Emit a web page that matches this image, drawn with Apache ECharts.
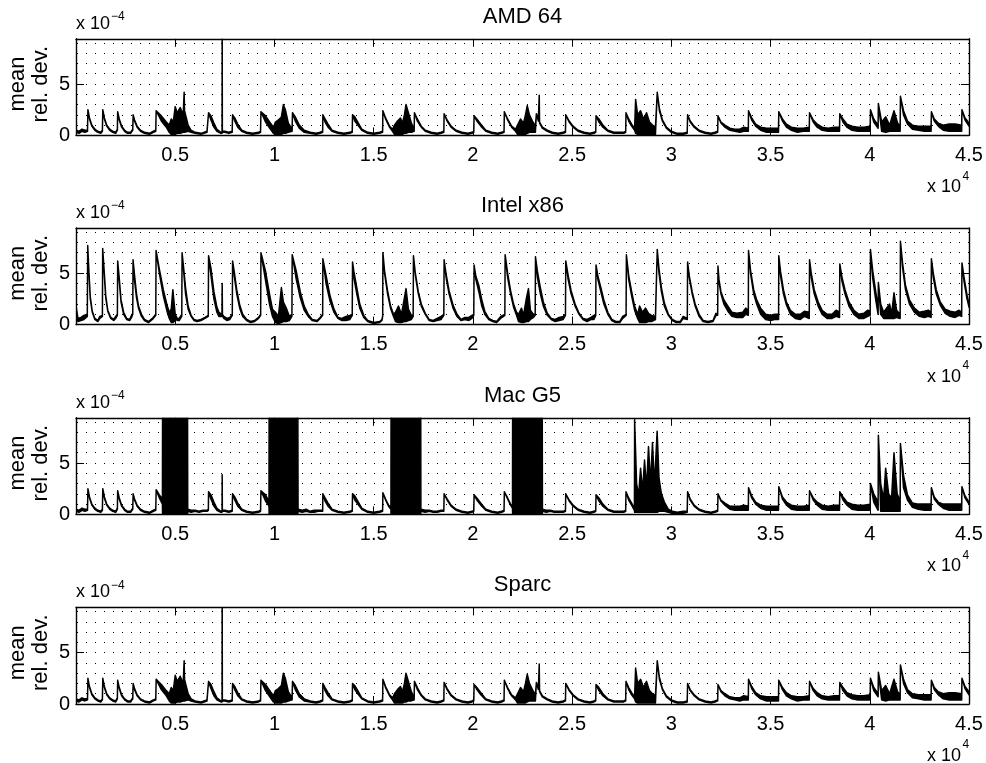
<!DOCTYPE html>
<html>
<head>
<meta charset="utf-8">
<script src="https://cdn.jsdelivr.net/npm/echarts@6/dist/echarts.min.js"></script>
<style>
    html, body { margin: 0; padding: 0; background: #fff; }
    #main { width: 986px; height: 763px; }
</style>
</head>
<body>
<div id="main"></div>
<script>
    var titles = ['AMD 64', 'Intel x86', 'Mac G5', 'Sparc'];
    var yTickValues = [0, 5];

    // trace: [x, lower edge, upper edge], y in units of 1e-4
    var amd64 = [
        [0,0.3,0.5],[150,0.2,0.4],[300,0.4,0.6],[450,0.3,0.5],[580,0.4,0.5],
        [600,2.5,2.5],[680,1.6,1.7],[800,0.9,1.0],[950,0.5,0.6],[1100,0.3,0.4],[1250,0.2,0.3],[1330,0.4,0.5],
        [1350,2.5,2.5],[1430,1.6,1.7],[1550,0.9,1.0],[1700,0.5,0.6],[1850,0.3,0.4],[2000,0.2,0.3],[2085,0.5,0.6],
        [2100,2.3,2.3],[2180,1.5,1.6],[2300,0.8,0.9],[2450,0.4,0.5],[2600,0.2,0.3],[2750,0.2,0.3],[2860,0.5,0.6],
        [2880,2.0,2.0],[2950,1.4,1.5],[3080,0.8,0.9],[3250,0.4,0.5],[3450,0.2,0.3],[3700,0.1,0.2],[3900,0.3,0.4],[4020,0.4,0.5],
        [4040,2.4,2.4],[4300,1.4,1.9],[4550,0.8,1.3],[4700,0.3,1.0],
        [4800,0.1,1.6],[4900,0.1,1.3],[5000,0.1,2.8],[5100,0.2,2.2],[5250,0.2,2.7],[5400,0.3,2.0],[5450,0.3,4.2],[5470,0.3,2.4],
        [5650,0.4,1.0],[5800,0.3,0.5],[6000,0.2,0.3],[6300,0.1,0.2],[6600,0.3,0.4],
        [6680,2.2,2.2],[6800,1.5,1.9],[6950,0.8,1.2],[7100,0.4,0.6],[7300,0.2,0.3],
        [7360,0.2,0.3],[7367,12,12],[7375,0.3,0.4],[7500,0.3,0.4],[7700,0.2,0.3],[7870,0.3,0.4],
        [7890,2.0,2.0],[8000,1.4,1.7],[8150,0.8,1.1],[8350,0.4,0.5],[8600,0.2,0.3],[8900,0.1,0.2],[9200,0.2,0.3],[9300,0.3,0.4],
        [9320,2.3,2.3],[9550,1.3,1.9],[9800,0.6,1.2],[9950,0.2,0.8],
        [10050,0.1,1.3],[10200,0.1,1.5],[10350,0.1,1.8],[10450,0.2,3.0],[10550,0.2,2.5],[10700,0.3,1.2],[10890,0.4,0.6],
        [10910,2.2,2.2],[11050,1.4,1.8],[11250,0.7,1.0],[11500,0.3,0.5],[11800,0.2,0.3],[12100,0.1,0.2],[12300,0.2,0.3],[12430,0.3,0.4],
        [12440,2.0,2.0],[12550,1.3,1.6],[12700,0.8,1.1],[12900,0.4,0.5],[13200,0.2,0.3],[13500,0.1,0.2],[13800,0.2,0.3],[13920,0.3,0.4],
        [13935,2.0,2.0],[14050,1.4,1.8],[14200,1.0,1.3],[14400,0.5,0.6],[14700,0.2,0.3],[15000,0.1,0.2],[15300,0.2,0.3],[15450,0.3,0.4],
        [15465,2.4,2.4],[15600,1.6,1.7],[15800,0.8,0.9],[15950,0.4,0.6],
        [16050,0.1,1.0],[16200,0.1,1.4],[16350,0.1,1.7],[16450,0.1,1.2],[16550,0.2,2.0],[16630,0.2,3.0],[16750,0.3,2.2],[16900,0.3,1.2],[17040,0.4,0.6],
        [17055,2.2,2.2],[17200,1.4,1.6],[17400,0.8,0.9],[17600,0.4,0.5],[17900,0.2,0.3],[18200,0.1,0.2],[18400,0.2,0.3],[18535,0.3,0.4],
        [18550,2.1,2.1],[18700,1.4,1.5],[18900,0.8,0.9],[19150,0.4,0.5],[19450,0.2,0.3],[19750,0.1,0.2],[19950,0.2,0.3],[20045,0.3,0.4],
        [20060,1.9,1.9],[20200,1.4,1.6],[20400,0.9,1.1],[20650,0.4,0.5],[20950,0.2,0.3],[21250,0.1,0.2],[21450,0.2,0.3],[21570,0.3,0.4],
        [21585,2.3,2.3],[21750,1.5,1.6],[21950,0.8,0.9],[22150,0.4,0.6],
        [22250,0.1,1.0],[22400,0.1,1.6],[22550,0.1,1.2],[22650,0.1,2.0],[22740,0.2,2.9],[22850,0.3,2.0],[23000,0.3,1.4],[23150,0.3,0.9],
        [23200,2.1,2.1],[23300,1.4,1.6],[23344,3.9,3.9],[23360,1.2,1.3],[23500,0.7,0.8],[23750,0.4,0.5],[24000,0.2,0.3],[24300,0.1,0.2],[24550,0.2,0.3],[24665,0.3,0.4],
        [24680,2.0,2.0],[24850,1.3,1.4],[25050,0.8,0.9],[25300,0.4,0.5],[25600,0.2,0.3],[25900,0.1,0.2],[26100,0.2,0.3],[26190,0.3,0.4],
        [26205,1.9,1.9],[26350,1.3,1.6],[26550,0.8,1.0],[26800,0.4,0.5],[27100,0.2,0.3],[27400,0.2,0.3],[27600,0.2,0.3],[27700,0.3,0.4],
        [27715,2.2,2.2],[27850,1.4,1.6],[28000,0.9,1.1],[28150,0.5,0.7],
        [28200,0.2,3.5],[28300,0.1,2.0],[28450,0.1,2.4],[28600,0.1,1.6],[28750,0.1,2.2],[28900,0.1,1.3],[29050,0.1,1.0],[29200,0.1,0.8],
        [29290,4.2,4.2],[29400,2.4,2.6],[29550,1.4,1.5],[29750,0.7,0.8],[30000,0.3,0.4],[30300,0.1,0.2],[30600,0.1,0.2],[30800,0.2,0.3],
        [30820,2.0,2.0],[30950,1.3,1.4],[31150,0.8,0.9],[31400,0.4,0.5],[31700,0.2,0.3],[32000,0.1,0.2],[32200,0.2,0.3],[32335,0.3,0.4],
        [32350,1.9,1.9],[32500,1.2,1.3],[32700,0.8,1.0],[32950,0.5,0.7],[33200,0.4,0.6],[33450,0.3,0.6],[33650,0.4,0.8],[33880,0.4,0.7],
        [33890,2.4,2.4],[34050,1.5,1.7],[34250,0.9,1.1],[34500,0.5,0.8],[34800,0.3,0.7],[35100,0.3,0.7],[35400,0.3,0.7],
        [35415,2.3,2.3],[35600,1.4,1.6],[35800,0.8,1.1],[36050,0.5,0.8],[36350,0.3,0.7],[36650,0.4,0.7],[36950,0.4,0.8],
        [36965,2.2,2.2],[37150,1.3,1.5],[37350,0.8,1.1],[37600,0.5,0.8],[37900,0.4,0.7],[38200,0.4,0.8],[38475,0.4,0.8],
        [38490,2.1,2.1],[38650,1.3,1.6],[38850,0.8,1.1],[39100,0.5,0.9],[39400,0.4,0.8],[39700,0.4,0.8],[40020,0.4,0.9],
        [40035,2.5,2.5],[40200,1.3,1.6],[40420,0.7,1.0],[40433,3.1,3.1],[40600,0.4,1.3],[40800,0.3,1.8],[41000,0.4,1.0],[41220,0.4,2.4],[41400,0.4,1.2],[41530,0.4,0.9],
        [41545,3.8,3.8],[41700,2.0,2.4],[41900,1.1,1.4],[42150,0.6,1.0],[42450,0.5,0.9],[42750,0.4,0.9],[43090,0.4,0.9],
        [43105,2.3,2.3],[43250,1.4,1.6],[43450,0.9,1.2],[43700,0.5,1.0],[44000,0.4,1.1],[44300,0.4,1.1],[44630,0.4,1.0],
        [44645,2.5,2.5],[44800,1.5,1.7],[45000,0.9,1.2]
    ];

    var intelX86 = [
        [0,1.2,1.8],[100,0.3,0.6],[250,0.4,0.7],[400,0.5,0.9],[570,0.8,1.0],
        [590,7.7,7.7],[650,5.0,5.2],[720,2.5,2.7],[820,1.2,1.3],[950,0.5,0.6],[1100,0.3,0.4],[1200,0.6,0.8],[1330,0.8,0.9],
        [1345,7.4,7.4],[1420,5.0,5.2],[1500,2.6,2.8],[1600,1.3,1.4],[1750,0.6,0.7],[1900,0.4,0.5],[2000,0.6,0.8],[2085,0.9,1.0],
        [2100,6.2,6.2],[2180,4.2,4.5],[2270,2.2,2.4],[2400,1.0,1.2],[2550,0.5,0.6],[2700,0.4,0.5],[2800,0.7,0.9],[2860,1.0,1.1],
        [2875,6.3,6.3],[2950,4.3,4.8],[3050,2.6,3.0],[3150,1.6,1.8],[3300,0.8,1.0],[3450,0.4,0.5],[3650,0.2,0.3],[3850,0.5,0.6],[4020,0.9,1.0],
        [4035,7.2,7.2],[4200,5.0,5.4],[4400,2.8,3.4],[4600,1.2,1.8],[4700,0.6,1.2],
        [4800,0.2,1.5],[4880,0.2,3.4],[4950,0.3,2.0],[5000,0.6,1.0],[5100,0.4,0.6],[5200,0.4,0.6],[5330,0.8,1.0],
        [5345,7.0,7.0],[5420,5.3,5.6],[5520,3.0,3.6],[5650,1.5,1.8],[5800,0.8,0.9],[5950,0.4,0.5],[6100,0.3,0.4],[6300,0.4,0.5],[6500,0.6,0.7],[6665,0.8,0.9],
        [6680,6.7,6.7],[6800,4.8,5.5],[6950,2.5,3.2],[7100,1.2,1.7],[7200,0.8,1.2],[7355,0.8,1.0],[7367,4.0,4.0],[7380,0.9,1.0],[7450,0.6,0.8],[7600,0.4,0.6],[7750,0.5,0.7],[7875,0.9,1.0],
        [7890,6.2,6.2],[7970,4.8,5.2],[8100,3.0,3.4],[8250,1.6,1.9],[8400,0.8,1.0],[8600,0.4,0.5],[8800,0.2,0.3],[9000,0.3,0.4],[9200,0.6,0.7],[9305,0.9,1.0],
        [9320,7.0,7.0],[9550,4.3,5.2],[9750,2.0,3.0],[9900,0.8,1.5],
        [10050,0.2,1.2],[10200,0.1,0.8],[10350,0.2,3.6],[10450,0.3,2.2],[10600,0.3,1.6],[10750,0.4,0.8],[10880,0.8,1.0],
        [10895,6.8,6.8],[11100,4.4,5.2],[11300,2.6,3.2],[11500,1.4,1.8],[11700,0.8,1.0],[11900,0.4,0.5],[12150,0.3,0.4],[12300,0.6,0.7],[12430,0.9,1.0],
        [12440,6.4,6.4],[12600,4.0,4.8],[12800,2.3,2.8],[13000,1.2,1.5],[13200,0.6,0.7],[13400,0.4,0.6],[13600,0.4,0.8],[13800,0.5,0.9],[13920,0.9,1.0],
        [13935,6.1,6.1],[14000,4.6,5.2],[14150,3.0,3.6],[14300,1.6,2.0],[14500,0.7,0.9],[14700,0.3,0.4],[15000,0.1,0.2],[15300,0.2,0.3],[15420,0.4,0.5],[15455,0.8,0.9],
        [15465,7.0,7.0],[15550,5.0,5.2],[15700,3.0,3.3],[15850,1.6,1.8],[16000,0.8,1.0],
        [16100,0.3,1.2],[16250,0.2,1.8],[16400,0.2,1.0],[16550,0.3,2.6],[16630,0.3,3.5],[16750,0.4,1.5],[16900,0.5,0.9],[16990,0.8,0.9],
        [17005,6.7,6.7],[17100,4.8,5.0],[17250,3.0,3.2],[17400,1.8,2.0],[17600,1.0,1.1],[17800,0.4,0.5],[18000,0.3,0.4],[18200,0.4,0.6],[18400,0.5,0.8],[18535,0.9,1.0],
        [18550,6.3,6.3],[18650,4.6,4.9],[18800,3.0,3.3],[19000,1.6,1.9],[19200,0.8,1.0],[19400,0.4,0.5],[19600,0.5,0.7],[19800,0.4,0.7],[19950,0.6,0.9],[20045,0.9,1.0],
        [20060,5.8,5.8],[20150,4.4,4.7],[20300,3.2,3.8],[20450,1.8,2.4],[20600,1.0,1.3],[20800,0.5,0.6],[21000,0.3,0.4],[21200,0.2,0.3],[21400,0.6,0.8],[21610,0.9,1.0],
        [21625,6.8,6.8],[21750,4.6,5.0],[21900,3.0,3.3],[22050,1.7,2.0],[22200,0.9,1.2],
        [22300,0.3,1.0],[22450,0.2,1.6],[22550,0.2,0.9],[22700,0.3,2.6],[22800,0.3,3.5],[22900,0.5,1.4],[23050,0.7,1.0],[23140,0.9,1.0],
        [23155,6.6,6.6],[23250,4.6,5.2],[23400,3.0,3.6],[23550,1.8,2.2],[23750,0.9,1.1],[23950,0.5,0.6],[24150,0.3,0.5],[24350,0.4,0.7],[24550,0.5,0.8],[24665,0.9,1.0],
        [24680,6.2,6.2],[24800,4.4,4.8],[24950,3.0,3.3],[25150,1.8,2.0],[25350,1.0,1.1],[25550,0.5,0.6],[25750,0.3,0.5],[25950,0.5,0.7],[26100,0.5,0.9],[26190,0.9,1.0],
        [26205,5.8,5.8],[26300,4.4,4.7],[26450,3.2,3.6],[26600,2.0,2.4],[26800,1.0,1.2],[27000,0.4,0.5],[27200,0.2,0.3],[27400,0.2,0.3],[27550,0.6,0.8],[27720,0.9,1.0],
        [27735,6.8,6.8],[27850,4.4,4.8],[28000,2.8,3.2],[28150,1.4,1.8],[28300,0.6,1.0],
        [28400,0.2,1.8],[28550,0.2,1.2],[28700,0.2,1.6],[28850,0.3,1.1],[29000,0.3,0.9],[29200,0.5,0.8],
        [29290,7.3,7.3],[29380,5.0,5.4],[29500,3.2,3.6],[29650,1.8,2.1],[29850,0.9,1.0],[30050,0.4,0.5],[30250,0.2,0.3],[30450,0.2,0.3],[30600,0.6,0.8],[30805,0.5,0.6],
        [30820,6.1,6.1],[30900,4.6,4.8],[31050,3.0,3.2],[31200,1.8,2.0],[31400,0.8,1.0],[31600,0.3,0.4],[31850,0.2,0.3],[32100,0.3,0.4],[32250,0.9,1.1],[32335,0.9,1.0],
        [32350,5.7,5.7],[32400,4.2,4.4],[32500,3.0,3.2],[32650,2.0,2.4],[32850,1.3,1.8],[33050,0.8,1.2],[33300,0.7,1.1],[33600,0.7,1.2],[33750,1.0,1.6],[33880,0.9,1.4],
        [33890,7.2,7.2],[33990,5.0,5.3],[34150,3.0,3.4],[34300,2.0,2.4],[34500,1.0,1.6],[34750,0.5,1.0],[35000,0.4,0.9],[35200,0.5,1.0],[35405,0.5,1.0],
        [35415,6.7,6.7],[35500,4.8,5.2],[35650,3.0,3.4],[35800,1.9,2.2],[36000,1.0,1.4],[36250,0.6,1.0],[36500,0.5,1.0],[36700,0.8,1.3],[36950,0.6,1.2],
        [36965,6.3,6.3],[37050,4.6,5.0],[37200,3.0,3.4],[37400,1.8,2.2],[37600,1.0,1.4],[37850,0.6,1.0],[38100,0.6,1.0],[38300,0.8,1.4],[38475,0.7,1.2],
        [38490,5.9,5.9],[38600,4.2,4.6],[38750,3.0,3.4],[38950,1.8,2.2],[39200,1.0,1.4],[39450,0.6,1.0],[39700,0.6,1.1],[39900,0.8,1.4],[40020,0.9,1.3],
        [40035,7.3,7.3],[40150,4.5,5.2],[40300,2.4,3.2],[40420,1.0,1.6],[40433,4.1,4.1],[40550,1.0,2.0],[40700,0.6,1.2],[41000,0.6,2.0],[41100,0.6,1.0],[41220,0.6,3.1],[41350,0.7,1.4],[41530,0.6,1.0],
        [41545,8.1,8.1],[41650,5.6,6.0],[41800,3.4,3.8],[42000,2.0,2.4],[42250,1.2,1.6],[42500,0.8,1.2],[42750,0.7,1.3],[42950,0.8,1.4],[43090,0.7,1.2],
        [43105,6.4,6.4],[43200,4.6,5.0],[43350,3.0,3.4],[43550,1.9,2.2],[43800,1.1,1.5],[44050,0.8,1.3],[44300,0.7,1.2],[44500,0.9,1.4],[44630,0.8,1.2],
        [44645,6.0,6.0],[44750,4.2,4.6],[44900,2.5,2.9],[45000,1.7,2.0]
    ];

    var macG5 = [
        [0,0.3,0.5],[150,0.2,0.4],[300,0.4,0.6],[450,0.3,0.5],[580,0.4,0.5],
        [600,2.5,2.5],[680,1.6,1.7],[800,0.9,1.0],[950,0.5,0.6],[1100,0.3,0.4],[1250,0.2,0.3],[1330,0.4,0.5],
        [1350,2.5,2.5],[1430,1.6,1.7],[1550,0.9,1.0],[1700,0.5,0.6],[1850,0.3,0.4],[2000,0.2,0.3],[2085,0.5,0.6],
        [2100,2.3,2.3],[2180,1.5,1.6],[2300,0.8,0.9],[2450,0.4,0.5],[2600,0.2,0.3],[2750,0.2,0.3],[2860,0.5,0.6],
        [2880,2.0,2.0],[2950,1.4,1.5],[3080,0.8,0.9],[3250,0.4,0.5],[3450,0.2,0.3],[3700,0.1,0.2],[3900,0.3,0.4],[4020,0.4,0.5],
        [4040,2.4,2.4],[4200,1.6,1.9],[4355,1.0,1.5],
        [4363,0,12],[5620,0,12],
        [5630,0.3,0.5],[5800,0.2,0.4],[6000,0.3,0.4],[6200,0.2,0.3],[6400,0.3,0.4],[6600,0.3,0.4],[6670,0.4,0.5],
        [6680,2.2,2.2],[6800,1.5,1.9],[6950,0.8,1.2],[7100,0.4,0.6],[7300,0.2,0.3],[7360,0.2,0.3],[7367,3.85,3.85],[7375,0.3,0.4],[7500,0.3,0.4],[7700,0.2,0.3],[7870,0.3,0.4],
        [7890,2.0,2.0],[8000,1.4,1.7],[8150,0.8,1.1],[8350,0.4,0.5],[8600,0.2,0.3],[8900,0.1,0.2],[9200,0.2,0.3],[9300,0.3,0.4],
        [9320,2.3,2.3],[9550,1.3,1.9],[9725,0.8,1.3],
        [9733,0,12],[11178,0,12],
        [11190,0.3,0.5],[11400,0.2,0.4],[11600,0.3,0.5],[11800,0.2,0.3],[12000,0.2,0.4],[12200,0.3,0.4],[12430,0.3,0.4],
        [12440,2.0,2.0],[12550,1.3,1.6],[12700,0.8,1.1],[12900,0.4,0.5],[13200,0.2,0.3],[13500,0.1,0.2],[13800,0.2,0.3],[13920,0.3,0.4],
        [13935,2.0,2.0],[14050,1.4,1.8],[14200,1.0,1.3],[14400,0.5,0.6],[14700,0.2,0.3],[15000,0.1,0.2],[15300,0.2,0.3],[15450,0.3,0.4],
        [15465,2.1,2.1],[15600,1.4,1.5],[15750,0.8,0.9],[15870,0.5,0.7],
        [15876,0,12],[17371,0,12],
        [17380,0.3,0.5],[17600,0.2,0.4],[17800,0.3,0.4],[18000,0.2,0.3],[18200,0.2,0.3],[18400,0.3,0.4],[18535,0.3,0.4],
        [18550,2.0,2.0],[18700,1.4,1.5],[18900,0.8,0.9],[19150,0.4,0.5],[19450,0.2,0.3],[19750,0.1,0.2],[19950,0.2,0.3],[20045,0.3,0.4],
        [20060,1.9,1.9],[20200,1.4,1.6],[20400,0.9,1.1],[20650,0.4,0.5],[20950,0.2,0.3],[21250,0.1,0.2],[21450,0.2,0.3],[21570,0.3,0.4],
        [21585,2.2,2.2],[21750,1.5,1.6],[21900,0.9,1.0],[21995,0.6,0.7],
        [22003,0,12],[23494,0,12],
        [23505,0.3,0.5],[23700,0.2,0.4],[23900,0.3,0.4],[24100,0.2,0.3],[24350,0.2,0.3],[24550,0.2,0.3],[24665,0.3,0.4],
        [24680,2.0,2.0],[24850,1.3,1.4],[25050,0.8,0.9],[25300,0.4,0.5],[25600,0.2,0.3],[25900,0.1,0.2],[26100,0.2,0.3],[26190,0.3,0.4],
        [26205,1.9,1.9],[26350,1.3,1.6],[26550,0.8,1.0],[26800,0.4,0.5],[27100,0.2,0.3],[27400,0.2,0.3],[27600,0.2,0.3],[27700,0.3,0.4],
        [27715,2.2,2.2],[27850,1.4,1.6],[28000,0.9,1.1],[28140,0.4,0.6],
        [28150,0.2,9.2],[28250,0.2,3.0],[28350,0.2,1.8],[28450,0.2,4.5],[28550,0.2,2.2],[28650,0.2,5.3],[28750,0.2,2.5],[28850,0.2,6.6],[28950,0.2,3.0],[29050,0.2,7.0],[29150,0.2,2.8],
        [29285,0.2,8.1],[29380,0.3,3.5],[29500,0.3,2.0],[29650,0.3,1.2],[29850,0.2,0.5],[30050,0.1,0.3],[30300,0.1,0.2],[30600,0.1,0.3],[30800,0.2,0.3],
        [30820,2.2,2.2],[30950,1.4,1.5],[31150,0.8,0.9],[31400,0.4,0.5],[31700,0.2,0.3],[32000,0.1,0.2],[32200,0.2,0.3],[32335,0.3,0.4],
        [32350,2.0,2.0],[32500,1.3,1.4],[32700,0.9,1.1],[32950,0.5,0.8],[33200,0.4,0.8],[33450,0.4,0.8],[33650,0.4,0.9],[33880,0.4,0.8],
        [33890,2.6,2.6],[34050,1.6,1.8],[34250,1.0,1.2],[34500,0.6,0.9],[34800,0.4,0.8],[35100,0.4,0.8],[35400,0.4,0.8],
        [35415,2.7,2.7],[35600,1.5,1.7],[35800,0.9,1.2],[36050,0.5,0.9],[36350,0.4,0.8],[36650,0.4,0.8],[36950,0.4,0.9],
        [36965,2.3,2.3],[37150,1.4,1.6],[37350,0.9,1.2],[37600,0.5,0.9],[37900,0.4,0.8],[38200,0.4,0.9],[38475,0.4,0.9],
        [38490,2.2,2.2],[38650,1.4,1.7],[38850,0.9,1.2],[39100,0.5,1.0],[39400,0.4,0.9],[39700,0.4,0.9],[40020,0.4,1.0],
        [40035,3.0,3.0],[40200,1.2,2.0],[40420,0.4,1.2],[40433,7.7,7.7],[40550,0.3,3.0],[40700,0.3,1.5],[40800,0.3,4.5],[40950,0.3,2.0],[41100,0.3,1.6],[41220,0.3,6.0],[41380,0.3,2.0],[41530,0.3,1.3],
        [41545,6.9,6.9],[41700,2.6,3.8],[41900,1.4,1.9],[42150,0.7,1.1],[42450,0.5,1.0],[42750,0.4,1.0],[43090,0.4,1.0],
        [43105,2.6,2.6],[43250,1.5,1.7],[43450,1.0,1.2],[43700,0.6,1.0],[44000,0.4,1.0],[44300,0.4,1.0],[44630,0.4,1.0],
        [44645,2.7,2.7],[44800,1.6,1.8],[45000,1.0,1.2]
    ];

    // the Sparc trace is the same as the AMD 64 one in the figure
    var sparc = amd64;

    var traces = [amd64, intelX86, macG5, sparc];

    var FONT = "'Liberation Sans', Arial, Helvetica, sans-serif";
    var gridTops = [38.8, 228, 417.8, 607.4];
    var gridH = 96.6;
    var gridL = 76, gridW = 893;

    var chart = echarts.init(document.getElementById('main'));

    var grids = [], xAxes = [], yAxes = [], series = [], graphics = [];

    function frameLine() {
        return {show: true, onZero: false, lineStyle: {color: '#000', width: 1.4}};
    }

    traces.forEach(function (pts, i) {
        var top = gridTops[i];
        grids.push({left: gridL, top: top, width: gridW, height: gridH, containLabel: false});

        xAxes.push({
            gridIndex: i, type: 'value', min: 0, max: 45000, interval: 5000, position: 'bottom',
            axisLine: frameLine(),
            axisTick: {inside: true, length: 8, lineStyle: {color: '#000', width: 1}},
            axisLabel: {
                color: '#000', fontSize: 20, fontFamily: FONT, margin: 10, showMinLabel: false,
                formatter: function (v) { return String(v / 10000); }
            },
            splitLine: {show: false}
        });
        xAxes.push({
            gridIndex: i, type: 'value', min: 0, max: 45000, interval: 5000, position: 'top',
            axisLine: frameLine(),
            axisTick: {inside: true, length: 8, lineStyle: {color: '#000', width: 1}},
            axisLabel: {show: false},
            splitLine: {show: false}
        });

        // left: labels and ticks at 0 and 5
        yAxes.push({
            gridIndex: i, type: 'value', min: 0, max: 9.4, interval: 1, position: 'left',
            axisLine: frameLine(),
            axisTick: {inside: true, length: 8, customValues: yTickValues, lineStyle: {color: '#000', width: 1}},
            axisLabel: {
                color: '#000', fontSize: 20, fontFamily: FONT, margin: 6, customValues: yTickValues,
                formatter: function (v) { return yTickValues.indexOf(v) >= 0 ? String(v) : ''; }
            },
            splitLine: {show: false}
        });
        // right: frame and tick at 5
        yAxes.push({
            gridIndex: i, type: 'value', min: 0, max: 9.4, interval: 5, position: 'right',
            axisLine: frameLine(),
            axisTick: {inside: true, length: 8, lineStyle: {color: '#000', width: 1}},
            axisLabel: {show: false},
            splitLine: {show: false}
        });
        // hidden axis carrying the dotted grid every 1e-4
        yAxes.push({
            gridIndex: i, type: 'value', min: 0, max: 9.4, interval: 1, position: 'left',
            axisLine: {show: false},
            axisTick: {show: false},
            axisLabel: {show: false},
            splitLine: {
                show: true, showMinLine: false, showMaxLine: false,
                lineStyle: {color: '#000', width: 1, type: [1, 8], dashOffset: 8}
            }
        });

        series.push({
            type: 'custom',
            xAxisIndex: i * 2,
            yAxisIndex: i * 3,
            clip: true,
            silent: true,
            animation: false,
            data: pts,
            encode: {x: 0, y: [1, 2]},
            renderItem: function (params, api) {
                if (params.dataIndex !== 0) return null;
                var upper = pts.map(function (p) { return api.coord([p[0], p[2]]); });
                var lower = pts.map(function (p) { return api.coord([p[0], p[1]]); }).reverse();
                return {
                    type: 'polygon',
                    shape: {points: upper.concat(lower)},
                    style: {fill: '#000', stroke: '#000', lineWidth: 1.5, lineJoin: 'round'}
                };
            }
        });

        var bottom = top + gridH;
        graphics.push(
            {type: 'text', x: gridL + gridW / 2, y: top - 22,
                style: {text: titles[i], fill: '#000', font: '22px ' + FONT,
                    align: 'center', verticalAlign: 'middle', textAlign: 'center', textVerticalAlign: 'middle'}},
            {type: 'text', x: 76, y: top - 15,
                style: {text: 'x 10', fill: '#000', font: '18px ' + FONT,
                    align: 'left', verticalAlign: 'middle', textAlign: 'left', textVerticalAlign: 'middle'}},
            {type: 'text', x: 111, y: top - 22,
                style: {text: '\u22124', fill: '#000', font: '12px ' + FONT,
                    align: 'left', verticalAlign: 'middle', textAlign: 'left', textVerticalAlign: 'middle'}},
            {type: 'text', x: 29, y: top + gridH / 2 - 3, rotation: Math.PI / 2,
                style: {text: 'mean\nrel. dev.', fill: '#000', font: '22px ' + FONT, lineHeight: 23,
                    align: 'center', verticalAlign: 'middle', textAlign: 'center', textVerticalAlign: 'middle'}},
            {type: 'text', x: 961, y: bottom + 52,
                style: {text: 'x 10', fill: '#000', font: '18px ' + FONT,
                    align: 'right', verticalAlign: 'middle', textAlign: 'right', textVerticalAlign: 'middle'}},
            {type: 'text', x: 962.5, y: bottom + 41,
                style: {text: '4', fill: '#000', font: '12px ' + FONT,
                    align: 'left', verticalAlign: 'middle', textAlign: 'left', textVerticalAlign: 'middle'}}
        );
    });

    chart.setOption({
        animation: false,
        backgroundColor: '#fff',
        textStyle: {fontFamily: FONT},
        grid: grids,
        xAxis: xAxes,
        yAxis: yAxes,
        series: series,
        graphic: graphics
    });
</script>
</body>
</html>
